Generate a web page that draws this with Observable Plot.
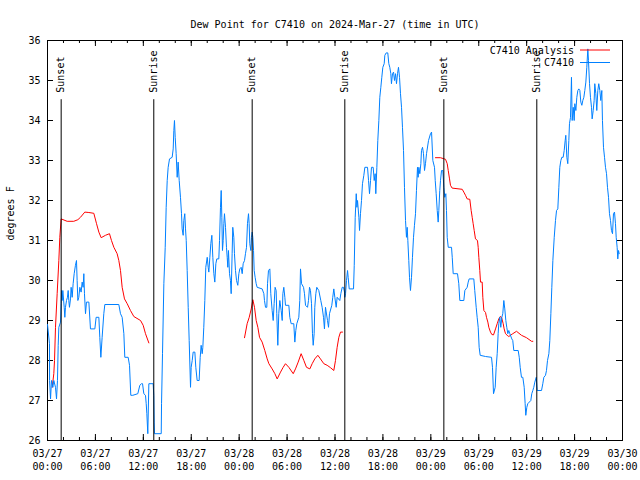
<!DOCTYPE html>
<html>
<head>
<meta charset="utf-8">
<script src="https://cdn.jsdelivr.net/npm/d3@7"></script>
<script src="https://cdn.jsdelivr.net/npm/@observablehq/plot@0.6"></script>
<style>
  body { margin: 0; background: white; }
  #wrap { position: relative; width: 640px; height: 480px; }
  #legend { position: absolute; left: 0; top: 0; pointer-events: none; }
</style>
</head>
<body>
<div id="wrap"></div>
<script>
const titleText = "Dew Point for C7410 on 2024-Mar-27 (time in UTC)";
const yLabelText = "degrees F";
const seriesNames = ["C7410 Analysis", "C7410"];
const seriesColors = ["#ff0000", "#0080ff"];

// hours since 2024-03-27 00:00 UTC, dew point in °F
const T0 = Date.UTC(2024, 2, 27);

const obsDay1 = [[0,28.9],[0.25,28.42],[0.26,27.5],[0.38,27.04],[0.5,27.5],[0.67,27.33],[0.79,27.5],[1.0,27.33],[1.13,27.04],[1.25,27.5],[1.34,28.38],[1.42,28.83],[1.63,28.96],[1.71,29.42],[1.75,29.75],[1.84,29.5],[1.92,29.75],[2.09,29.33],[2.17,29.08],[2.25,29.33],[2.38,29.5],[2.5,29.58],[2.59,29.75],[2.67,29.5],[2.75,29.33],[2.88,29.54],[2.96,29.83],[3.09,29.58],[3.21,29.92],[3.34,30.17],[3.5,30.38],[3.63,30.5],[3.71,30.0],[3.8,29.5],[3.92,29.58],[4.05,29.83],[4.21,29.71],[4.34,29.96],[4.46,29.83],[4.55,30.17],[4.63,29.67],[4.76,29.17],[4.88,29.46],[5.18,29.46],[5.38,28.79],[5.93,28.79],[6.09,29.08],[6.43,29.08],[6.55,28.58],[6.68,28.08],[6.84,28.58],[7.05,29.17],[7.18,29.4],[8.93,29.4],[9.14,29.17],[9.35,29.08],[9.56,28.67],[9.68,28.08],[10.1,28.08],[10.27,27.88],[10.43,27.13],[10.68,27.13],[11.31,27.17],[11.56,27.38],[11.77,27.42],[11.9,27.42],[12.06,27.17],[12.27,27.13],[12.36,26.92],[12.44,26.67],[12.56,26.17],[12.69,27.42],[13.23,27.42],[13.31,27.13],[13.36,26.46],[13.4,26.17],[14.24,26.17],[14.28,26.92],[14.4,28.17],[14.57,29.92],[14.74,30.83],[14.86,31.83],[14.99,32.5],[15.11,32.83],[15.28,33.04],[15.61,33.08],[15.74,33.29],[15.82,33.75],[15.9,34.0],[15.99,33.58],[16.11,33.17],[16.24,32.58],[16.36,32.96],[16.49,32.5],[16.65,32.08],[16.78,31.67],[16.86,31.29],[16.99,31.13],[17.07,31.5],[17.19,31.67],[17.28,31.29],[17.37,31.0],[17.49,30.25],[17.62,29.33],[17.74,28.5],[17.91,27.33],[17.99,27.83],[18.12,28.0],[18.24,28.21],[18.45,28.21],[18.57,27.83],[18.74,27.5],[18.99,27.5],[19.12,28.08],[19.24,28.38],[19.37,28.17],[19.45,28.33],[19.57,28.83],[19.7,29.5],[19.82,30.33],[20.0,30.58],[20.12,30.33],[20.2,30.21],[20.33,30.58],[20.45,30.92],[20.58,31.13],[20.7,30.58],[20.83,30.17],[20.95,29.96],[21.08,30.42],[21.2,30.54],[21.45,30.54],[21.54,31.0],[21.66,31.83],[21.75,32.25],[21.83,31.58],[21.91,30.75],[22.0,31.0],[22.08,31.42],[22.16,31.67],[22.29,31.33],[22.41,30.83],[22.5,30.58],[22.58,30.33],[22.66,30.75],[22.79,30.17],[22.91,30.0],[23.0,29.67],[23.12,30.67],[23.2,31.33],[23.33,31.08],[23.41,30.67],[23.54,30.25],[23.67,30.0],[23.83,29.88],[23.96,30.17]];

const obsDay2 = [[24.08,30.29],[24.25,30.33],[24.38,30.17],[24.5,30.42],[24.67,30.5],[24.79,30.67],[24.92,30.83],[25.04,31.42],[25.17,31.67],[25.25,31.42],[25.33,30.92],[25.46,30.75],[25.54,31.08],[25.63,31.21],[25.71,31.08],[25.8,30.75],[25.88,30.25],[26.0,30.08],[26.13,29.92],[26.25,29.83],[26.88,29.79],[27.09,29.67],[27.17,29.5],[27.3,29.33],[27.46,29.33],[27.55,29.92],[27.67,30.25],[27.84,30.29],[27.96,29.67],[28.13,29.25],[28.26,29.0],[28.38,29.42],[28.5,29.83],[28.63,29.75],[28.71,29.17],[28.84,28.38],[28.96,29.17],[29.09,29.5],[29.26,29.25],[29.39,29.0],[29.47,29.67],[29.59,29.83],[29.72,29.58],[29.8,29.38],[30.22,29.38],[30.34,29.08],[30.51,28.92],[30.84,28.92],[30.97,28.46],[31.09,28.75],[31.22,28.92],[31.47,29.08],[31.59,29.5],[31.68,30.29],[31.81,29.92],[32.06,29.83],[32.18,29.67],[32.31,29.38],[32.56,29.33],[32.68,29.5],[32.81,29.83],[32.93,29.75],[33.06,29.42],[33.18,28.67],[33.27,28.38],[33.39,28.67],[33.47,29.33],[33.6,29.67],[33.72,29.83],[33.97,29.75],[34.22,29.5],[34.39,29.33],[34.56,29.08],[34.68,28.79],[34.81,29.33],[35.06,29.0],[35.19,28.83],[35.31,29.17],[35.6,29.38],[35.72,29.58],[35.85,29.79],[35.98,29.58],[36.15,29.33],[36.27,29.58],[36.6,29.5],[36.73,29.67],[36.9,29.83],[37.06,29.83],[37.19,29.71],[37.23,29.58],[37.32,29.67],[37.44,30.0],[37.57,30.25],[37.65,30.08],[37.78,29.79],[38.32,29.79],[38.41,30.38],[38.53,31.58],[38.66,32.17],[38.74,31.83],[38.82,32.0],[38.99,31.58],[39.07,31.25],[39.19,31.67],[39.32,32.0],[39.44,32.42],[39.61,32.63],[39.74,32.83],[40.07,32.83],[40.2,32.5],[40.32,32.17],[40.45,32.5],[40.57,32.83],[40.78,32.83],[40.91,32.5],[41.03,32.67],[41.11,32.17],[41.24,32.83],[41.36,33.5],[41.49,34.0],[41.61,34.58],[41.74,34.83],[41.86,35.08],[41.99,35.33],[42.16,35.42],[42.24,35.63],[42.41,35.69],[42.61,35.69],[42.74,35.42],[42.86,35.33],[42.99,35.17],[43.07,34.92],[43.2,35.17],[43.33,35.21],[43.45,35.0],[43.58,35.17],[43.7,34.92],[43.83,35.17],[43.95,35.33],[44.08,35.08],[44.2,34.67],[44.33,34.33],[44.45,33.83],[44.58,33.25],[44.7,32.33],[44.83,31.5],[44.95,31.08],[45.04,31.33],[45.12,31.0],[45.24,30.5],[45.33,30.08],[45.45,29.75],[45.58,30.08],[45.7,30.58],[45.83,31.08],[45.95,31.38],[46.08,31.67],[46.2,32.25],[46.33,32.83],[46.41,32.58],[46.5,32.83],[46.62,32.67],[46.75,32.92],[46.83,33.25],[46.96,33.33],[47.08,33.17],[47.21,32.75],[47.33,32.92],[47.46,33.17],[47.71,33.5],[47.96,33.67]];

const obsDay3 = [[48.09,33.71],[48.25,33.0],[48.46,32.83],[48.55,32.5],[48.67,32.17],[48.8,31.75],[48.92,31.46],[49.0,31.75],[49.12,32.25],[49.21,32.5],[49.34,32.75],[49.5,32.75],[49.63,32.33],[49.75,32.08],[49.88,32.17],[49.96,31.75],[50.05,31.08],[50.18,30.83],[50.59,30.83],[50.68,30.58],[50.8,30.17],[51.34,30.17],[51.5,29.92],[51.63,29.5],[52.13,29.5],[52.26,29.75],[52.55,29.83],[52.68,29.96],[52.8,30.04],[53.38,30.04],[53.5,29.75],[53.68,29.33],[53.8,29.08],[53.93,28.83],[54.05,28.33],[54.18,28.13],[54.85,28.1],[55.6,28.08],[55.72,27.83],[55.85,27.17],[56.06,27.33],[56.18,27.83],[56.31,28.17],[56.43,28.67],[56.51,28.92],[56.64,29.08],[56.76,28.83],[56.89,29.08],[57.01,29.17],[57.14,29.5],[57.26,29.29],[57.39,29.0],[57.51,28.83],[57.64,28.67],[57.76,28.75],[57.89,28.67],[58.14,28.54],[58.26,28.5],[58.39,28.25],[58.94,28.25],[59.07,28.08],[59.19,27.83],[59.35,27.58],[59.52,27.58],[59.69,27.33],[59.81,26.92],[59.89,26.63],[60.02,26.83],[60.14,26.92],[60.52,27.0],[60.64,27.17],[60.77,27.25],[60.89,27.33],[61.02,27.46],[61.2,27.58],[61.32,27.25],[61.86,27.25],[62.02,27.42],[62.15,27.58],[62.36,27.63],[62.48,27.75],[62.61,28.0],[62.78,28.17],[62.9,28.5],[63.03,29.17],[63.15,29.83],[63.28,30.5],[63.45,31.08],[63.61,31.5],[63.74,31.75],[63.9,31.79],[64.03,32.33],[64.15,32.83],[64.28,33.0],[64.4,33.08],[64.57,33.08],[64.7,33.25],[64.82,33.5],[64.9,33.63],[65.03,33.08],[65.15,32.92],[65.28,33.5],[65.36,33.92],[65.49,34.08],[65.61,35.08],[65.7,34.0],[65.83,34.33],[65.95,34.0],[66.03,34.42],[66.16,34.25],[66.28,34.58],[66.41,34.75],[66.53,34.79],[66.66,34.75],[66.78,34.46],[66.91,34.38],[67.03,34.5],[67.16,34.58],[67.28,34.75],[67.41,34.96],[67.53,35.33],[67.66,35.79],[67.74,35.5],[67.87,34.92],[67.99,34.58],[68.12,34.33],[68.2,34.04],[68.33,34.25],[68.45,34.5],[68.53,34.92],[68.66,34.67],[68.78,34.25],[68.91,34.75],[69.03,34.92],[69.16,34.75],[69.28,34.5],[69.41,34.75],[69.49,34.0],[69.62,33.33],[69.75,33.08],[69.87,32.83],[70.0,32.67],[70.12,32.33],[70.25,32.08],[70.37,31.67],[70.5,31.5],[70.62,31.25],[70.75,31.17],[70.87,31.67],[71.0,31.71],[71.12,31.42],[71.21,31.08],[71.33,30.83],[71.41,30.54],[71.5,30.75],[71.58,30.67]];

const anaNight1 = [[0.59,27.33],[0.79,27.67],[0.88,28.0],[1.0,28.83],[1.21,29.67],[1.42,30.5],[1.54,31.08],[1.71,31.54],[2.46,31.48],[3.29,31.48],[3.8,31.52],[4.13,31.58],[4.67,31.71],[5.18,31.7],[5.8,31.68],[6.14,31.42],[6.43,31.21],[6.72,31.07],[7.26,31.13],[7.76,31.17],[8.01,31.0],[8.31,30.83],[8.72,30.67],[8.93,30.5],[9.14,30.25],[9.35,29.83],[9.64,29.54],[9.98,29.42],[10.39,29.25],[10.81,29.1],[11.65,29.0],[11.98,28.88],[12.27,28.67],[12.69,28.44]];

const anaNight2 = [[24.67,28.57],[25.0,28.92],[25.26,29.08],[25.51,29.29],[25.71,29.52],[25.92,29.33],[26.13,29.0],[26.34,28.83],[26.55,28.58],[26.88,28.46],[27.21,28.25],[27.51,28.04],[27.72,27.92],[28.13,27.79],[28.47,27.67],[28.76,27.54],[29.18,27.71],[29.51,27.83],[29.8,27.92],[30.22,27.83],[30.77,27.67],[31.05,27.79],[31.39,27.96],[31.76,28.17],[32.1,28.0],[32.43,27.83],[32.85,27.79],[33.14,27.92],[33.47,28.04],[33.85,28.13],[34.18,28.04],[34.6,27.92],[35.02,27.88],[35.44,27.82],[35.85,27.75],[36.06,28.0],[36.27,28.33],[36.48,28.58],[36.69,28.71],[36.94,28.71]];

const anaNight3 = [[48.58,33.07],[49.21,33.07],[49.84,33.03],[50.05,32.92],[50.18,32.75],[50.34,32.54],[50.46,32.38],[50.67,32.31],[51.93,32.28],[52.13,32.21],[52.34,32.13],[52.55,32.04],[52.88,32.03],[53.05,31.75],[53.18,31.58],[53.3,31.42],[53.43,31.25],[53.59,31.04],[53.84,31.0],[53.93,30.83],[54.01,30.58],[54.13,30.25],[54.22,29.96],[54.43,29.96],[54.51,29.58],[54.64,29.25],[54.85,29.2],[54.97,29.08],[55.14,28.96],[55.26,28.83],[55.47,28.71],[55.64,28.65],[55.85,28.64],[56.1,28.79],[56.31,28.92],[56.51,29.04],[56.69,29.1],[56.85,29.08],[57.06,28.92],[57.18,28.79],[57.35,28.67],[57.56,28.63],[57.76,28.6],[58.26,28.67],[58.73,28.73],[59.35,28.63],[59.98,28.57],[60.61,28.48],[60.77,28.48]];

const sunEventHours = [1.71, 13.31, 25.63, 37.23, 49.63, 61.27];
const sunEventNames = ["Sunset", "Sunrise", "Sunset", "Sunrise", "Sunset", "Sunrise"];
const sunLineTop = 34.52;

const yTicks = [26, 27, 28, 29, 30, 31, 32, 33, 34, 35, 36];
const xMajorHours = [0, 6, 12, 18, 24, 30, 36, 42, 48, 54, 60, 66, 72];
const xTickLabels = ["03/27\n00:00","03/27\n06:00","03/27\n12:00","03/27\n18:00","03/28\n00:00","03/28\n06:00","03/28\n12:00","03/28\n18:00","03/29\n00:00","03/29\n06:00","03/29\n12:00","03/29\n18:00","03/30\n00:00"];
const xMinorHours = d3.range(0, 73, 2);

const hour = h => new Date(T0 + h * 3600000);
const obs = [...obsDay1, ...obsDay2, ...obsDay3];
const sunEvents = sunEventHours.map((h, i) => ({h, name: sunEventNames[i]}));

const W = 640, H = 480, ML = 47, MR = 18, MT = 40, MB = 40;
const innerW = W - ML - MR, innerH = H - MT - MB;

const chart = Plot.plot({
  width: W, height: H,
  marginLeft: ML, marginRight: MR, marginTop: MT, marginBottom: MB,
  style: {fontFamily: "'DejaVu Sans Mono', monospace", fontSize: "10px", background: "white", color: "black", overflow: "visible"},
  x: {type: "utc", domain: [hour(0), hour(72)]},
  y: {domain: [26, 36]},
  marks: [
    Plot.frame({stroke: "black"}),
    Plot.tickY(yTicks, {y: d => d, stroke: "black", insetRight: innerW - 6}),
    Plot.tickY(yTicks, {y: d => d, stroke: "black", insetLeft: innerW - 6}),
    Plot.tickX(xMinorHours, {x: hour, stroke: "black", insetTop: innerH - 3}),
    Plot.tickX(xMinorHours, {x: hour, stroke: "black", insetBottom: innerH - 3}),
    Plot.tickX(xMajorHours, {x: hour, stroke: "black", insetTop: innerH - 6}),
    Plot.tickX(xMajorHours, {x: hour, stroke: "black", insetBottom: innerH - 6}),
    Plot.axisY(yTicks, {tickSize: 0, tickPadding: 7, label: null}),
    Plot.axisX(xMajorHours.map(hour), {
      tickSize: 0, tickPadding: 7, label: null, lineHeight: 1.3,
      tickFormat: d => xTickLabels[xMajorHours.indexOf((+d - T0) / 3600000)]
    }),
    Plot.line(anaNight1, {x: d => hour(d[0]), y: d => d[1], stroke: seriesColors[0], strokeWidth: 1}),
    Plot.line(anaNight2, {x: d => hour(d[0]), y: d => d[1], stroke: seriesColors[0], strokeWidth: 1}),
    Plot.line(anaNight3, {x: d => hour(d[0]), y: d => d[1], stroke: seriesColors[0], strokeWidth: 1}),
    Plot.line(obs, {x: d => hour(d[0]), y: d => d[1], stroke: seriesColors[1], strokeWidth: 1}),
    Plot.ruleX(sunEvents, {x: d => hour(d.h), y1: sunLineTop, y2: 26, stroke: "black", strokeWidth: 1}),
    Plot.text(sunEvents, {x: d => hour(d.h), y: sunLineTop, text: "name", rotate: -90, textAnchor: "start", dy: -7, fill: "black"}),
    Plot.text([titleText], {frameAnchor: "top", dy: -20, fill: "black"}),
    Plot.text([yLabelText], {frameAnchor: "left", dx: -37, rotate: -90, fill: "black"})
  ]
});

const wrap = document.getElementById("wrap");
wrap.appendChild(chart);

// legend overlay (top-right, inside the frame)
const leg = d3.select(wrap).append("svg")
  .attr("id", "legend").attr("width", W).attr("height", H)
  .style("font-family", "'DejaVu Sans Mono', monospace").style("font-size", "10px");
seriesNames.forEach((name, i) => {
  const y = 50 + i * 12.5;
  leg.append("text").attr("x", 574).attr("y", y).attr("text-anchor", "end")
    .attr("dominant-baseline", "central").attr("fill", "black").text(name);
  leg.append("line").attr("x1", 580).attr("x2", 610).attr("y1", y).attr("y2", y)
    .attr("stroke", seriesColors[i]).attr("stroke-width", 1);
});
</script>
</body>
</html>
